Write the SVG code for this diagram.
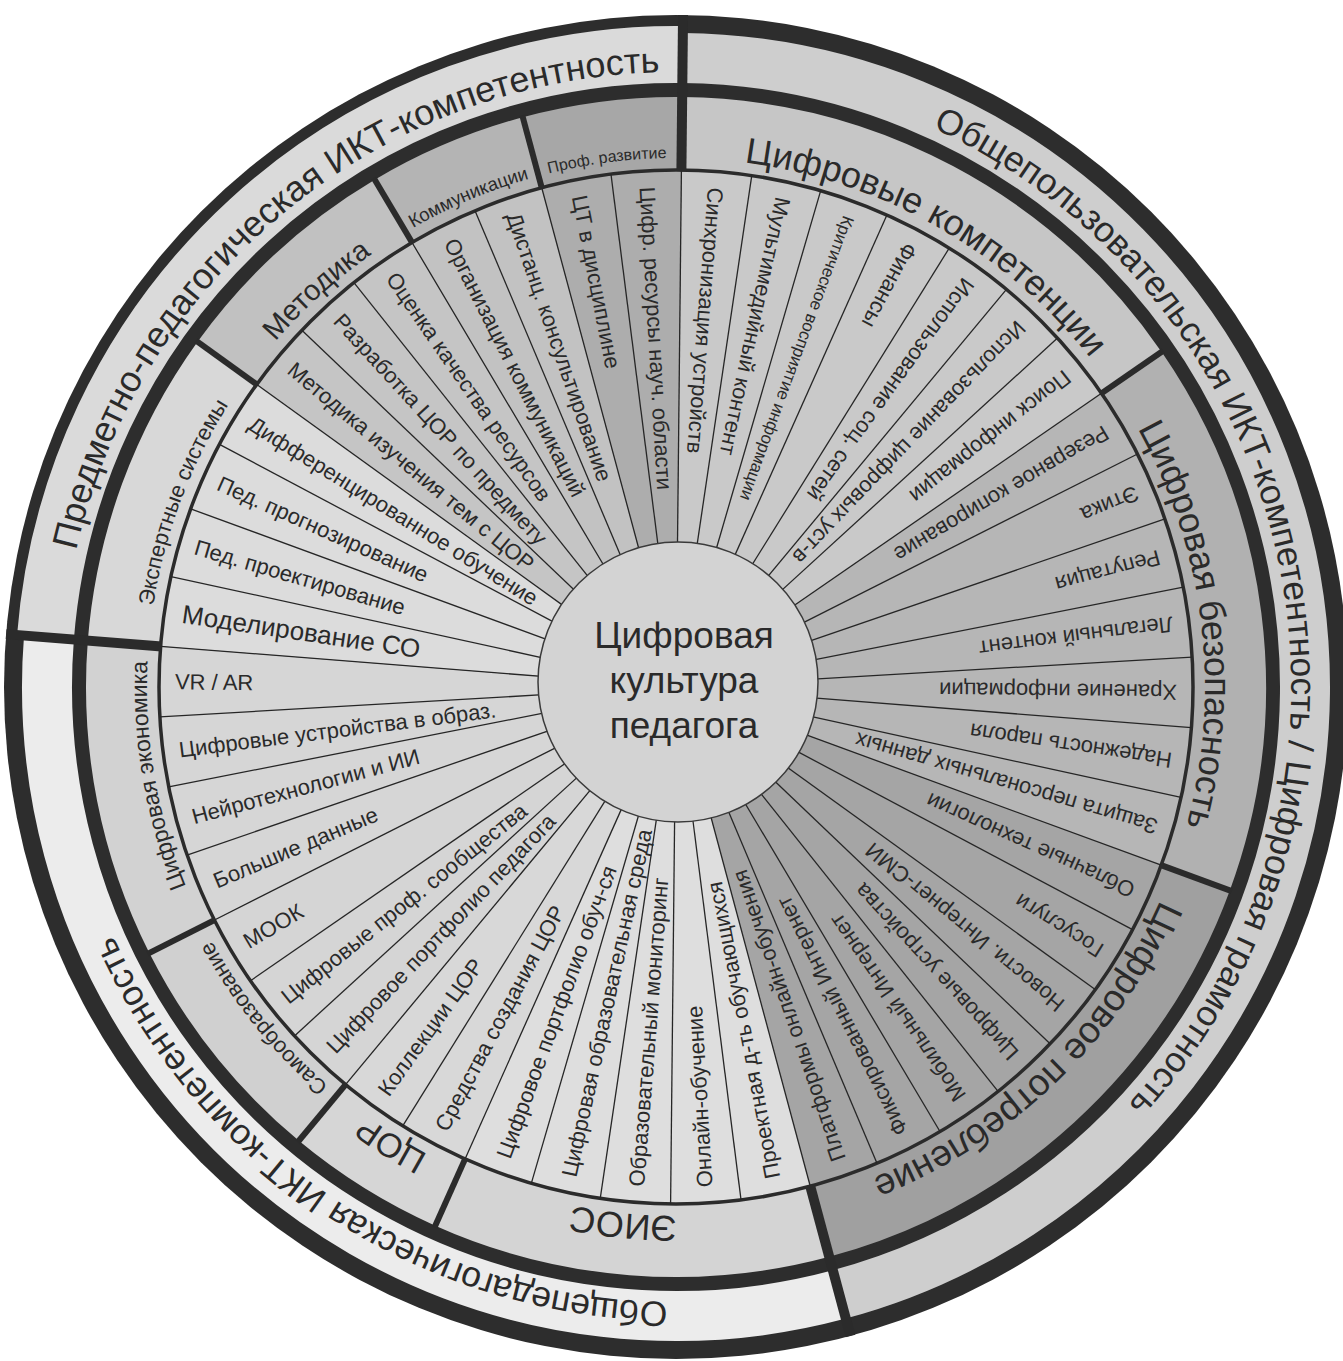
<svg xmlns="http://www.w3.org/2000/svg" width="1343" height="1361" viewBox="0 0 1343 1361">
<defs>
<path id="pSub" d="M676,158 A529,529 0 1 1 676,1216 A529,529 0 1 1 676,158 A529,529 0 1 1 676,1216 A529,529 0 1 1 676,158"/>
<path id="pOut" d="M676,72 A615,615 0 1 1 676,1302 A615,615 0 1 1 676,72 A615,615 0 1 1 676,1302 A615,615 0 1 1 676,72"/>
</defs>
<style>
text{font-family:"Liberation Sans",Arial,sans-serif;fill:#2a2a2a}
.sp{font-size:22px;dominant-baseline:central}
.arcS{fill:none;stroke-width:386}
.arcB{fill:none;stroke-width:73}
.arcO{fill:none;stroke-width:50}
.div{stroke:#262626;stroke-width:1.3}
.bnd{stroke:#2b2b2b;stroke-width:6}
.maj{stroke:#2b2b2b;stroke-width:10}
</style>
<rect width="1343" height="1361" fill="#ffffff"/>
<g id="outer-frame">
<circle cx="676" cy="687" r="672" fill="#2d2d2d"/>
</g>
<g id="ring-obshchepolz">
<circle cx="676" cy="687" r="629" class="arcO" stroke="#cecece" stroke-dasharray="1804.2 4000" transform="rotate(-89.4 676 687)"/>
<text font-size="35.5" text-anchor="middle"><textPath href="#pOut" startOffset="844.75">Общепользовательская ИКТ-компетентность / Цифровая грамотность</textPath></text>
</g>
<g id="ring-obshchepedag">
<circle cx="676" cy="687" r="629" class="arcO" stroke="#ececec" stroke-dasharray="1202.8 4000" transform="rotate(74.948 676 687)"/>
<text font-size="35.5" text-anchor="middle"><textPath href="#pOut" startOffset="2291.7">Общепедагогическая ИКТ-компетентность</textPath></text>
</g>
<g id="ring-predmetno">
<circle cx="676" cy="687" r="632.5" fill="none" stroke-width="57" stroke="#dadada" stroke-dasharray="950.33 4000" transform="rotate(184.513 676 687)"/>
<text font-size="36" text-anchor="middle"><textPath href="#pOut" startOffset="3442.3">Предметно-педагогическая ИКТ-компетентность</textPath></text>
</g>

<g id="cat-ck">
<circle cx="676" cy="687" r="553.5" class="arcB" stroke="#c6c6c6" stroke-dasharray="529.22 4000" transform="rotate(-89.4 676 687)"/>
<circle cx="676" cy="687" r="325" class="arcS" stroke="#c9c9c9" stroke-dasharray="310.75 2100" transform="rotate(-89.4 676 687)"/>
<text font-size="36" text-anchor="middle"><textPath href="#pSub" startOffset="272.37">Цифровые компетенции</textPath></text>
<text class="sp" transform="rotate(4.513 676 687) translate(676 186) rotate(90)">Синхронизация устройств</text>
<text class="sp" transform="rotate(12.339 676 687) translate(676 186) rotate(90)">Мультимедийный контент</text>
<text class="sp" style="font-size:17px" transform="rotate(20.165 676 687) translate(676 186) rotate(90)">Критическое восприятие информации</text>
<text class="sp" transform="rotate(27.991 676 687) translate(676 186) rotate(90)">Финансы</text>
<text class="sp" transform="rotate(35.817 676 687) translate(676 186) rotate(90)">Использование соц. сетей</text>
<text class="sp" transform="rotate(43.643 676 687) translate(676 186) rotate(90)">Использование цифровых уст-в</text>
<text class="sp" transform="rotate(51.470 676 687) translate(676 186) rotate(90)">Поиск информации</text>
</g>
<g id="cat-cb">
<circle cx="676" cy="687" r="553.5" class="arcB" stroke="#b1b1b1" stroke-dasharray="529.22 4000" transform="rotate(-34.617 676 687)"/>
<circle cx="676" cy="687" r="325" class="arcS" stroke="#b6b6b6" stroke-dasharray="310.75 2100" transform="rotate(-34.617 676 687)"/>
<text font-size="36" text-anchor="middle"><textPath href="#pSub" startOffset="766.32">Цифровая безопасность</textPath></text>
<text class="sp" transform="rotate(59.296 676 687) translate(676 186) rotate(90)">Резервное копирование</text>
<text class="sp" transform="rotate(67.122 676 687) translate(676 186) rotate(90)">Этика</text>
<text class="sp" transform="rotate(74.948 676 687) translate(676 186) rotate(90)">Репутация</text>
<text class="sp" transform="rotate(82.774 676 687) translate(676 186) rotate(90)">Легальный контент</text>
<text class="sp" transform="rotate(90.600 676 687) translate(676 186) rotate(90)">Хранение информации</text>
<text class="sp" transform="rotate(98.426 676 687) translate(676 186) rotate(90)">Надежность пароля</text>
<text class="sp" transform="rotate(106.252 676 687) translate(676 186) rotate(90)">Защита персональных данных</text>
</g>
<g id="cat-cp">
<circle cx="676" cy="687" r="553.5" class="arcB" stroke="#a0a0a0" stroke-dasharray="529.22 4000" transform="rotate(20.165 676 687)"/>
<circle cx="676" cy="687" r="325" class="arcS" stroke="#a5a5a5" stroke-dasharray="310.75 2100" transform="rotate(20.165 676 687)"/>
<text font-size="37" text-anchor="middle"><textPath href="#pSub" startOffset="1255.66">Цифровое потребление</textPath></text>
<text class="sp" transform="rotate(114.078 676 687) translate(676 186) rotate(90)">Облачные технологии</text>
<text class="sp" transform="rotate(121.904 676 687) translate(676 186) rotate(90)">Госуслуги</text>
<text class="sp" transform="rotate(129.730 676 687) translate(676 186) rotate(90)">Новости. Интернет-СМИ</text>
<text class="sp" transform="rotate(137.557 676 687) translate(676 186) rotate(90)">Цифровые устройства</text>
<text class="sp" transform="rotate(145.383 676 687) translate(676 186) rotate(90)">Мобильный Интернет</text>
<text class="sp" transform="rotate(153.209 676 687) translate(676 186) rotate(90)">Фиксированный Интернет</text>
<text class="sp" transform="rotate(161.035 676 687) translate(676 186) rotate(90)">Платформы онлайн-обучения</text>
</g>
<g id="cat-eios">
<circle cx="676" cy="687" r="553.5" class="arcB" stroke="#d4d4d4" stroke-dasharray="378.02 4000" transform="rotate(74.948 676 687)"/>
<circle cx="676" cy="687" r="325" class="arcS" stroke="#dedede" stroke-dasharray="221.96 2100" transform="rotate(74.948 676 687)"/>
<text font-size="36" text-anchor="middle"><textPath href="#pSub" startOffset="1713.61">ЭИОС</textPath></text>
<text class="sp" transform="rotate(168.861 676 687) translate(676 186) rotate(90)">Проектная д-ть обучающихся</text>
<text class="sp" transform="rotate(176.687 676 687) translate(676 186) rotate(90)">Онлайн-обучение</text>
<text class="sp" transform="rotate(184.513 676 687) translate(676 186) rotate(90)">Образовательный мониторинг</text>
<text class="sp" transform="rotate(192.339 676 687) translate(676 186) rotate(90)">Цифровая образовательная среда</text>
<text class="sp" transform="rotate(200.165 676 687) translate(676 186) rotate(90)">Цифровое портфолио обуч-ся</text>
</g>
<g id="cat-cor">
<circle cx="676" cy="687" r="553.5" class="arcB" stroke="#d6d6d6" stroke-dasharray="151.21 4000" transform="rotate(114.078 676 687)"/>
<circle cx="676" cy="687" r="325" class="arcS" stroke="#d8d8d8" stroke-dasharray="88.78 2100" transform="rotate(114.078 676 687)"/>
<text font-size="34" text-anchor="middle"><textPath href="#pSub" startOffset="1956.43">ЦОР</textPath></text>
<text class="sp" transform="rotate(207.991 676 687) translate(676 186) rotate(90)">Средства создания ЦОР</text>
<text class="sp" transform="rotate(215.817 676 687) translate(676 186) rotate(90)">Коллекции ЦОР</text>
</g>
<g id="cat-samo">
<circle cx="676" cy="687" r="553.5" class="arcB" stroke="#d0d0d0" stroke-dasharray="226.81 4000" transform="rotate(129.730 676 687)"/>
<circle cx="676" cy="687" r="325" class="arcS" stroke="#d5d5d5" stroke-dasharray="133.18 2100" transform="rotate(129.730 676 687)"/>
<text font-size="22" text-anchor="middle"><textPath href="#pSub" startOffset="2134.62">Самообразование</textPath></text>
<text class="sp" transform="rotate(223.643 676 687) translate(676 186) rotate(90)">Цифровое портфолио педагога</text>
<text class="sp" transform="rotate(231.470 676 687) translate(676 186) rotate(90)">Цифровые проф. сообщества</text>
<text class="sp" transform="rotate(239.296 676 687) translate(676 186) rotate(90)">МООК</text>
</g>
<g id="cat-econ">
<circle cx="676" cy="687" r="553.5" class="arcB" stroke="#d2d2d2" stroke-dasharray="302.41 4000" transform="rotate(153.209 676 687)"/>
<circle cx="676" cy="687" r="325" class="arcS" stroke="#d6d6d6" stroke-dasharray="177.57 2100" transform="rotate(153.209 676 687)"/>
<text font-size="23" text-anchor="middle"><textPath href="#pSub" startOffset="2403.30">Цифровая экономика</textPath></text>
<text class="sp" transform="rotate(247.122 676 687) translate(676 186) rotate(90)">Большие данные</text>
<text class="sp" transform="rotate(254.948 676 687) translate(676 186) rotate(90)">Нейротехнологии и ИИ</text>
<text class="sp" transform="rotate(262.774 676 687) translate(676 186) rotate(90)">Цифровые устройства в образ.</text>
<text class="sp" transform="rotate(270.600 676 687) translate(676 186) rotate(90)">VR / AR</text>
</g>
<g id="cat-exp">
<circle cx="676" cy="687" r="553.5" class="arcB" stroke="#d8d8d8" stroke-dasharray="302.41 4000" transform="rotate(184.513 676 687)"/>
<circle cx="676" cy="687" r="325" class="arcS" stroke="#dcdcdc" stroke-dasharray="177.57 2100" transform="rotate(184.513 676 687)"/>
<text font-size="22" text-anchor="middle"><textPath href="#pSub" startOffset="2682.13">Экспертные системы</textPath></text>
<text class="sp" style="font-size:26px" transform="rotate(278.426 676 687) translate(676 188) rotate(90)">Моделирование СО</text>
<text class="sp" transform="rotate(286.252 676 687) translate(676 186) rotate(90)">Пед. проектирование</text>
<text class="sp" transform="rotate(294.078 676 687) translate(676 186) rotate(90)">Пед. прогнозирование</text>
<text class="sp" transform="rotate(301.904 676 687) translate(676 186) rotate(90)">Дифференцированное обучение</text>
</g>
<g id="cat-met">
<circle cx="676" cy="687" r="553.5" class="arcB" stroke="#c1c1c1" stroke-dasharray="226.81 4000" transform="rotate(215.817 676 687)"/>
<circle cx="676" cy="687" r="325" class="arcS" stroke="#c5c5c5" stroke-dasharray="133.18 2100" transform="rotate(215.817 676 687)"/>
<text font-size="29" text-anchor="middle"><textPath href="#pSub" startOffset="2934.18">Методика</textPath></text>
<text class="sp" transform="rotate(309.730 676 687) translate(676 186) rotate(90)">Методика изучения тем с ЦОР</text>
<text class="sp" transform="rotate(317.557 676 687) translate(676 186) rotate(90)">Разработка ЦОР по предмету</text>
<text class="sp" transform="rotate(325.383 676 687) translate(676 186) rotate(90)">Оценка качества ресурсов</text>
</g>
<g id="cat-kom">
<circle cx="676" cy="687" r="553.5" class="arcB" stroke="#b4b4b4" stroke-dasharray="151.21 4000" transform="rotate(239.296 676 687)"/>
<circle cx="676" cy="687" r="325" class="arcS" stroke="#c2c2c2" stroke-dasharray="88.78 2100" transform="rotate(239.296 676 687)"/>
<text font-size="18.5" text-anchor="middle"><textPath href="#pSub" startOffset="3111.45">Коммуникации</textPath></text>
<text class="sp" transform="rotate(333.209 676 687) translate(676 186) rotate(90)">Организация коммуникаций</text>
<text class="sp" transform="rotate(341.035 676 687) translate(676 186) rotate(90)">Дистанц. консультирование</text>
</g>
<g id="cat-prof">
<circle cx="676" cy="687" r="553.5" class="arcB" stroke="#a7a7a7" stroke-dasharray="151.21 4000" transform="rotate(254.948 676 687)"/>
<circle cx="676" cy="687" r="325" class="arcS" stroke="#adadad" stroke-dasharray="88.78 2100" transform="rotate(254.948 676 687)"/>
<text font-size="16" text-anchor="middle"><textPath href="#pSub" startOffset="3254.56">Проф. развитие</textPath></text>
<text class="sp" transform="rotate(348.861 676 687) translate(676 186) rotate(90)">ЦТ в дисциплине</text>
<text class="sp" transform="rotate(356.687 676 687) translate(676 186) rotate(90)">Цифр. ресурсы науч. области</text>
</g>

<g id="connectors">
<circle cx="676" cy="687" r="517" fill="none" stroke="#2b2b2b" stroke-width="3.5"/>
<g class="div">
<line x1="676" y1="562" x2="676" y2="170" transform="rotate(0.6 676 687)"/>
<line x1="676" y1="562" x2="676" y2="170" transform="rotate(8.426 676 687)"/>
<line x1="676" y1="562" x2="676" y2="170" transform="rotate(16.252 676 687)"/>
<line x1="676" y1="562" x2="676" y2="170" transform="rotate(24.078 676 687)"/>
<line x1="676" y1="562" x2="676" y2="170" transform="rotate(31.904 676 687)"/>
<line x1="676" y1="562" x2="676" y2="170" transform="rotate(39.730 676 687)"/>
<line x1="676" y1="562" x2="676" y2="170" transform="rotate(47.557 676 687)"/>
<line x1="676" y1="562" x2="676" y2="170" transform="rotate(55.383 676 687)"/>
<line x1="676" y1="562" x2="676" y2="170" transform="rotate(63.209 676 687)"/>
<line x1="676" y1="562" x2="676" y2="170" transform="rotate(71.035 676 687)"/>
<line x1="676" y1="562" x2="676" y2="170" transform="rotate(78.861 676 687)"/>
<line x1="676" y1="562" x2="676" y2="170" transform="rotate(86.687 676 687)"/>
<line x1="676" y1="562" x2="676" y2="170" transform="rotate(94.513 676 687)"/>
<line x1="676" y1="562" x2="676" y2="170" transform="rotate(102.339 676 687)"/>
<line x1="676" y1="562" x2="676" y2="170" transform="rotate(110.165 676 687)"/>
<line x1="676" y1="562" x2="676" y2="170" transform="rotate(117.991 676 687)"/>
<line x1="676" y1="562" x2="676" y2="170" transform="rotate(125.817 676 687)"/>
<line x1="676" y1="562" x2="676" y2="170" transform="rotate(133.643 676 687)"/>
<line x1="676" y1="562" x2="676" y2="170" transform="rotate(141.470 676 687)"/>
<line x1="676" y1="562" x2="676" y2="170" transform="rotate(149.296 676 687)"/>
<line x1="676" y1="562" x2="676" y2="170" transform="rotate(157.122 676 687)"/>
<line x1="676" y1="562" x2="676" y2="170" transform="rotate(164.948 676 687)"/>
<line x1="676" y1="562" x2="676" y2="170" transform="rotate(172.774 676 687)"/>
<line x1="676" y1="562" x2="676" y2="170" transform="rotate(180.600 676 687)"/>
<line x1="676" y1="562" x2="676" y2="170" transform="rotate(188.426 676 687)"/>
<line x1="676" y1="562" x2="676" y2="170" transform="rotate(196.252 676 687)"/>
<line x1="676" y1="562" x2="676" y2="170" transform="rotate(204.078 676 687)"/>
<line x1="676" y1="562" x2="676" y2="170" transform="rotate(211.904 676 687)"/>
<line x1="676" y1="562" x2="676" y2="170" transform="rotate(219.730 676 687)"/>
<line x1="676" y1="562" x2="676" y2="170" transform="rotate(227.557 676 687)"/>
<line x1="676" y1="562" x2="676" y2="170" transform="rotate(235.383 676 687)"/>
<line x1="676" y1="562" x2="676" y2="170" transform="rotate(243.209 676 687)"/>
<line x1="676" y1="562" x2="676" y2="170" transform="rotate(251.035 676 687)"/>
<line x1="676" y1="562" x2="676" y2="170" transform="rotate(258.861 676 687)"/>
<line x1="676" y1="562" x2="676" y2="170" transform="rotate(266.687 676 687)"/>
<line x1="676" y1="562" x2="676" y2="170" transform="rotate(274.513 676 687)"/>
<line x1="676" y1="562" x2="676" y2="170" transform="rotate(282.339 676 687)"/>
<line x1="676" y1="562" x2="676" y2="170" transform="rotate(290.165 676 687)"/>
<line x1="676" y1="562" x2="676" y2="170" transform="rotate(297.991 676 687)"/>
<line x1="676" y1="562" x2="676" y2="170" transform="rotate(305.817 676 687)"/>
<line x1="676" y1="562" x2="676" y2="170" transform="rotate(313.643 676 687)"/>
<line x1="676" y1="562" x2="676" y2="170" transform="rotate(321.470 676 687)"/>
<line x1="676" y1="562" x2="676" y2="170" transform="rotate(329.296 676 687)"/>
<line x1="676" y1="562" x2="676" y2="170" transform="rotate(337.122 676 687)"/>
<line x1="676" y1="562" x2="676" y2="170" transform="rotate(344.948 676 687)"/>
<line x1="676" y1="562" x2="676" y2="170" transform="rotate(352.774 676 687)"/>
</g>
<g class="bnd">
<line x1="676" y1="171" x2="676" y2="95" transform="rotate(55.383 676 687)"/>
<line x1="676" y1="171" x2="676" y2="95" transform="rotate(110.165 676 687)"/>
<line x1="676" y1="171" x2="676" y2="95" transform="rotate(204.078 676 687)"/>
<line x1="676" y1="171" x2="676" y2="95" transform="rotate(219.730 676 687)"/>
<line x1="676" y1="171" x2="676" y2="95" transform="rotate(243.209 676 687)"/>
<line x1="676" y1="171" x2="676" y2="95" transform="rotate(305.817 676 687)"/>
<line x1="676" y1="171" x2="676" y2="95" transform="rotate(329.296 676 687)"/>
<line x1="676" y1="171" x2="676" y2="95" transform="rotate(344.948 676 687)"/>
</g>
<g class="maj">
<line x1="676" y1="171" x2="676" y2="15" transform="rotate(0.6 676 687)"/>
<line x1="676" y1="171" x2="676" y2="15" transform="rotate(164.948 676 687)"/>
<line x1="676" y1="171" x2="676" y2="15" transform="rotate(274.513 676 687)"/>
</g>
</g>

<g id="center">
<circle cx="678" cy="682" r="140" fill="#d3d3d3" stroke="#3a3a3a" stroke-width="1.5"/>
<text x="684" y="648" font-size="37" text-anchor="middle">Цифровая</text>
<text x="684" y="693" font-size="37" text-anchor="middle">культура</text>
<text x="684" y="738" font-size="37" text-anchor="middle">педагога</text>
</g>
</svg>
